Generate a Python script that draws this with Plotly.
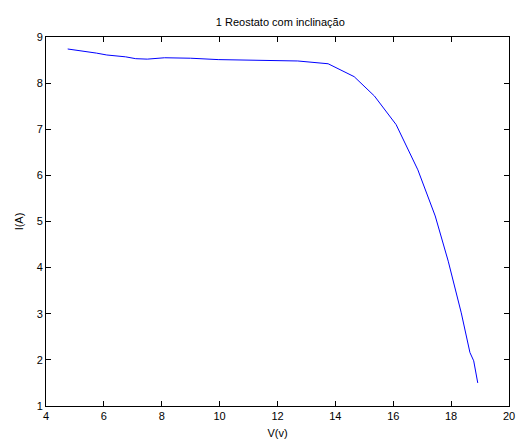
import plotly.graph_objects as go

V = [4.75, 5.0, 5.4, 5.75, 6.1, 6.75, 7.1, 7.5, 8.1, 9.0, 9.95, 10.9, 12.0, 12.7,
     13.75, 14.65, 15.35, 16.1, 16.85, 17.45, 17.9, 18.35, 18.65, 18.78, 18.92]
I = [8.74, 8.72, 8.69, 8.65, 8.61, 8.57, 8.53, 8.52, 8.55, 8.54, 8.51, 8.50, 8.50, 8.48,
     8.42, 8.14, 7.72, 7.10, 6.12, 5.12, 4.14, 3.02, 2.16, 1.98, 1.50]

x_ticks = [4, 6, 8, 10, 12, 14, 16, 18, 20]
y_ticks = [1, 2, 3, 4, 5, 6, 7, 8, 9]

fig = go.Figure(go.Scatter(x=V, y=I, mode="lines",
                           line=dict(color="#0000ff", width=1)))

font = dict(family="Liberation Sans, Arial, sans-serif", size=11, color="black")
axis_common = dict(showline=True, linecolor="black", linewidth=1, mirror="ticks",
                   ticks="inside", ticklen=5, tickcolor="black", showgrid=False,
                   zeroline=False, tickfont=font)

fig.update_layout(
    width=523, height=446,
    margin=dict(l=46, r=8, t=37, b=39),
    paper_bgcolor="white", plot_bgcolor="white",
    showlegend=False,
    font=font,
    title=dict(text="1 Reostato com inclinação", x=0.536, xanchor="center",
               y=0.951, yanchor="middle", font=font),
    xaxis=dict(range=[4, 20], tickvals=x_ticks, title=dict(text="V(v)", font=font, standoff=8),
               **axis_common),
    yaxis=dict(range=[1, 9], tickvals=y_ticks, title=dict(text="I(A)", font=font, standoff=10),
               **axis_common),
)

fig.write_html("out.html")
